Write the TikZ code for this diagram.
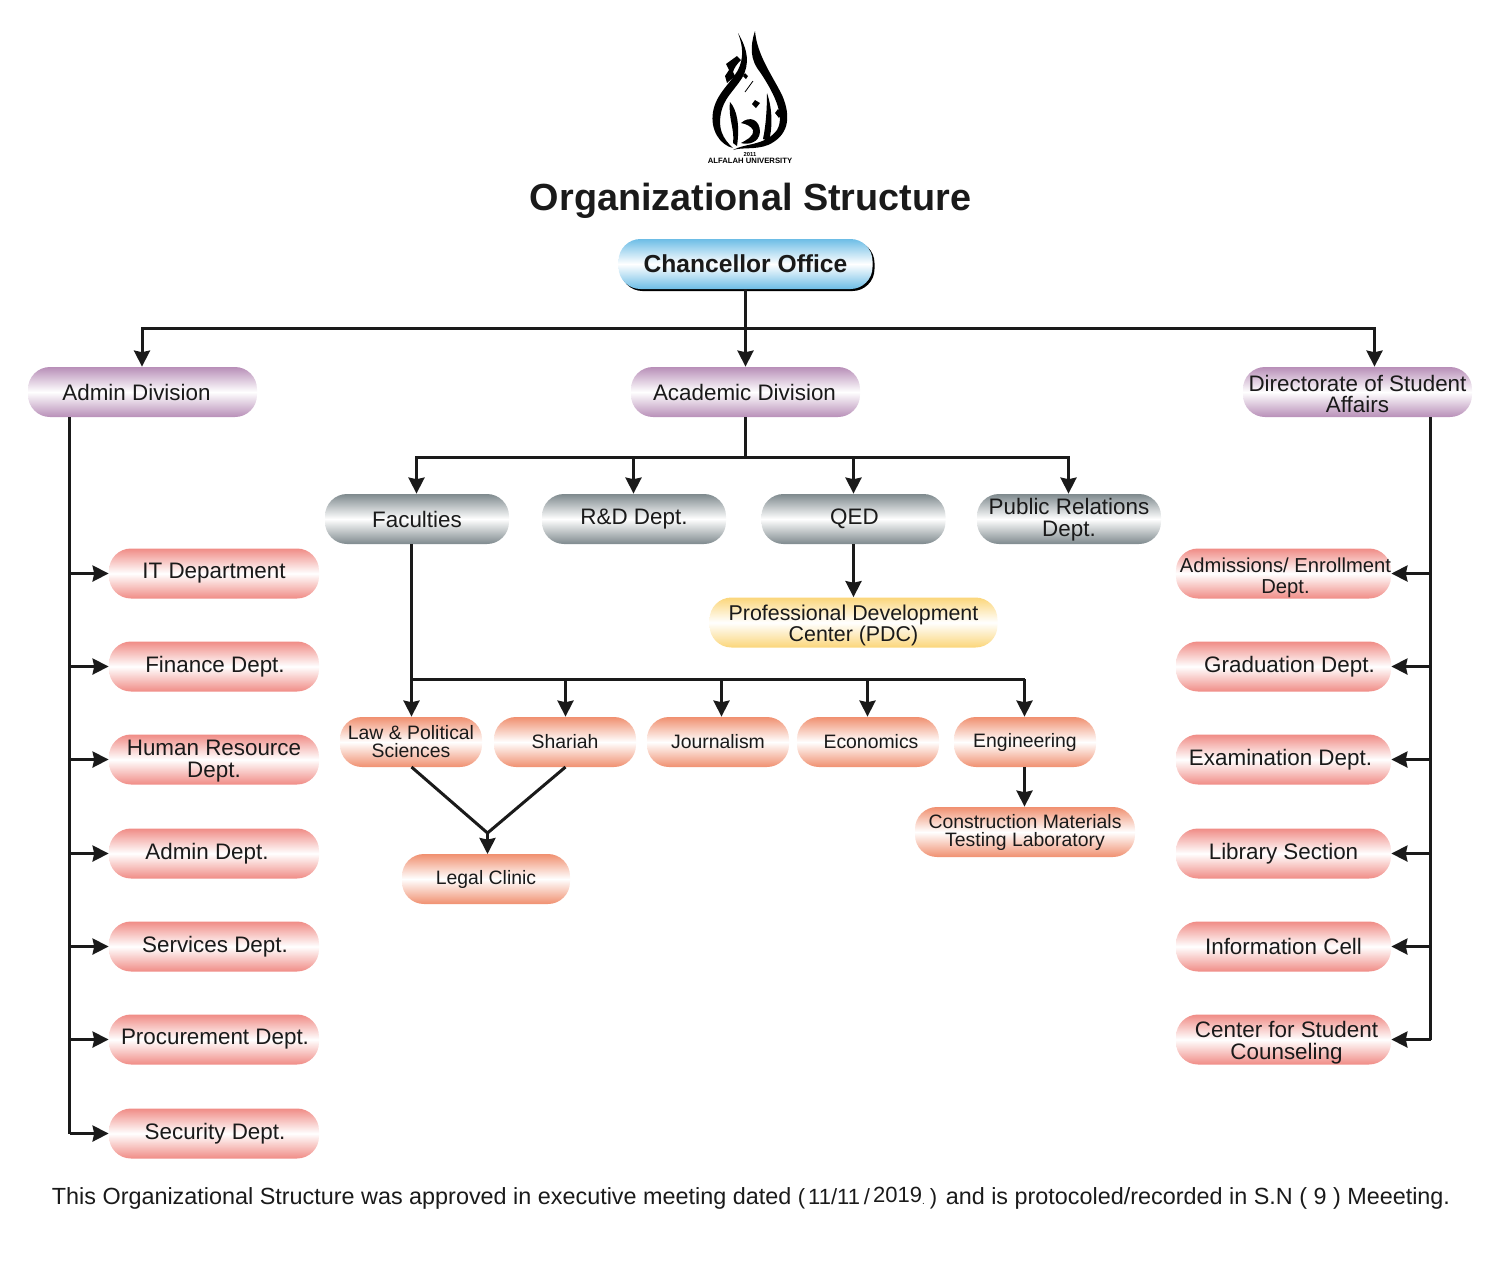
\documentclass[tikz,border=0pt]{standalone}
\usepackage{fontspec}
\setmainfont{Liberation Sans}
\usetikzlibrary{arrows.meta,shadows}
\definecolor{inkline}{HTML}{1A1A1A}
\definecolor{bluetone}{HTML}{6DBDE6}
\definecolor{purpletone}{HTML}{B88FB8}
\definecolor{greytone}{HTML}{7F8A8E}
\definecolor{redtone}{HTML}{F08C86}
\definecolor{orangetone}{HTML}{F09070}
\definecolor{yellowtone}{HTML}{FBD67A}
\newcommand{\droptext}[1]{\rule{0pt}{#1}}
\tikzset{
  unitbox/.style={rectangle,rounded corners=11pt,inner sep=0pt,minimum height=25pt,align=center,text=inkline,
    font=\fontsize{11.2}{10.9}\selectfont,top color=#1,bottom color=#1,middle color=white},
  divbox/.style={unitbox=purpletone,minimum width=114.5pt},
  grpbox/.style={unitbox=greytone,minimum width=92pt},
  leftbox/.style={unitbox=redtone,minimum width=105pt},
  rightbox/.style={unitbox=redtone,minimum width=107.5pt},
  facbox/.style={unitbox=orangetone,minimum width=71pt,font=\fontsize{9.7}{9}\selectfont},
  link/.style={draw=inkline,line width=1.5pt},
  linkto/.style={link,-{Stealth[length=8pt,width=8pt,inset=0.8pt]}},
  logoink/.style={fill=black,draw=none}
}
\begin{document}
\begin{tikzpicture}[x=0.5pt,y=-0.5pt]
\useasboundingbox (0,0) rectangle (1500,1287);
\fill[logoink] (755,31) .. controls (757,55) and (772,75) .. (782,95) .. controls (792,118) and (788,136) .. (768,145) .. controls (755,150) and (742,147) .. (733,150) .. controls (745,143) and (765,146) .. (777,130) .. controls (786,115) and (772,90) .. (760,72) .. controls (750,60) and (750,46) .. (755,31) -- cycle;
\fill[logoink] (738,33) .. controls (748,50) and (750,64) .. (742,78) .. controls (733,92) and (724,98) .. (721,113) .. controls (718,128) and (722,138) .. (733,148) .. controls (720,145) and (710,130) .. (713,112) .. controls (716,94) and (730,84) .. (738,70) .. controls (744,58) and (743,46) .. (738,33) -- cycle;
\fill[logoink] (726,64) -- (737,56) -- (741,60) .. controls (737,64) and (734,68) .. (733,72) -- (735,76) -- (727,83) -- (725,76) -- (729,70) -- cycle;
\fill[logoink] (730,102) .. controls (737,110) and (740,125) .. (737,146) -- (733,143) .. controls (735,130) and (728,118) .. (730,102) -- cycle;
\fill[logoink] (767,93) .. controls (772,108) and (773,125) .. (769,141) -- (763,139) .. controls (766,125) and (767,108) .. (767,93) -- cycle;
\fill[logoink] (741,123) .. controls (750,115) and (760,120) .. (760,132) .. controls (759,143) and (748,145) .. (741,143) .. controls (746,140) and (754,137) .. (753,130) .. controls (751,126) and (746,124) .. (741,123) -- cycle;
\fill[logoink] (755,100) -- (760,103) -- (756,108) -- (752,104) -- cycle;
\fill[logoink] (778,109) -- (782,113) -- (779,118) -- (775,113) -- cycle;
\draw[black,line width=0.4pt] (745,92) -- (753,81);
\fill[logoink] (745,73) -- (748,76) -- (746,79) -- (743,76) -- cycle;
\node[font=\bfseries\fontsize{2.9}{3}\selectfont,text=black,inner sep=0pt] (logoyear) at (750,154) {2011};
\node[font=\bfseries\fontsize{3.85}{4}\selectfont,text=black,inner sep=0pt] (logoname) at (750,160.5) {ALFALAH UNIVERSITY};
\node[font=\bfseries\fontsize{18.9}{20}\selectfont,text=inkline,inner sep=0pt] (title) at (750.5,200.5) {Organizational Structure};
\node[unitbox=bluetone,minimum width=127pt,font=\bfseries\fontsize{12.3}{13}\selectfont,general shadow={shadow xshift=1pt,shadow yshift=-1pt,fill=black}] (chancellor) at (745.5,264) {Chancellor Office};
\node[divbox] (admindiv) at (142.5,392) {\kern-6pt Admin Division};
\node[divbox] (academicdiv) at (745.5,392) {\kern-1pt Academic Division};
\node[divbox] (studentdiv) at (1357.5,392) {\droptext{10.1pt}Directorate of Student\\Affairs};
\node[grpbox] (faculties) at (417,519) {Faculties};
\node[grpbox] (rnd) at (634,519) {R\&D Dept.};
\node[grpbox] (qed) at (853.5,519) {\kern1pt\raisebox{-0.8pt}{QED}};
\node[grpbox] (pubrel) at (1069,519) {\droptext{8.8pt}Public Relations\\Dept.};
\node[unitbox=yellowtone,minimum width=144pt,font=\fontsize{10.7}{10.9}\selectfont] (pdc) at (853.5,622.5) {\droptext{10.8pt}Professional Development\\Center (PDC)};
\node[leftbox] (itdept) at (214,573.5) {IT Department};
\node[leftbox] (finance) at (214,666.5) {\kern1pt Finance Dept.};
\node[leftbox] (hr) at (214,759.5) {\droptext{9.6pt}Human Resource\\Dept.};
\node[leftbox] (admin) at (214,853.5) {\kern-7pt Admin Dept.};
\node[leftbox] (services) at (214,946.5) {\kern1pt Services Dept.};
\node[leftbox] (procure) at (214,1039.5) {\kern1pt Procurement Dept.};
\node[leftbox] (security) at (214,1133.5) {\kern1pt Security Dept.};
\node[rightbox,font=\fontsize{10.1}{10.5}\selectfont] (admissions) at (1283.5,573.5) {\droptext{11.3pt}\kern2pt Admissions/ Enrollment\\\kern2pt Dept.};
\node[rightbox] (graduation) at (1283.5,666.5) {\kern6pt Graduation Dept.};
\node[rightbox] (exam) at (1283.5,759.5) {\kern-3pt Examination Dept.};
\node[rightbox] (library) at (1283.5,853.5) {Library Section};
\node[rightbox] (infocell) at (1283.5,946.5) {Information Cell};
\node[rightbox] (counseling) at (1283.5,1039.5) {\droptext{11.1pt}\kern3pt Center for Student\\\kern3pt Counseling};
\node[facbox] (law) at (411,742) {Law \& Political\\Sciences};
\node[facbox] (shariah) at (565,742) {Shariah};
\node[facbox] (journalism) at (718,742) {Journalism};
\node[facbox] (economics) at (868,742) {\kern3pt Economics};
\node[facbox] (engineering) at (1025,742) {Engineering};
\node[facbox,minimum width=110pt] (cmtl) at (1025,832) {Construction Materials\\Testing Laboratory};
\node[facbox,minimum width=84pt] (legal) at (486,879) {Legal Clinic};
\node[font=\fontsize{11.69}{12}\selectfont,text=inkline,inner sep=0pt] (footer) at (751,1198) {This Organizational Structure was approved in executive meeting dated {\fontsize{11}{12}\selectfont (\kern1.5pt 11/11\kern2pt/\kern1.5pt\raisebox{0.8pt}{2019}{\tiny.}\kern2.5pt)} and is protocoled/recorded in S.N ( 9 ) Meeeting.};
\coordinate (topbus) at (745.5,328);
\coordinate (topleft) at (142,328);
\coordinate (topright) at (1374.5,328);
\coordinate (acaout) at (745.5,417);
\coordinate (acabus) at (745.5,457);
\coordinate (busfac) at (416.5,457);
\coordinate (busrnd) at (633.5,457);
\coordinate (busqed) at (853.5,457);
\coordinate (buspub) at (1068.5,457);
\coordinate (facdrop) at (411.5,544);
\coordinate (facbus) at (411.5,679);
\coordinate (busshariah) at (565.5,679);
\coordinate (busjournal) at (721.5,679);
\coordinate (buseco) at (867.5,679);
\coordinate (buseng) at (1024.5,679);
\coordinate (leftstart) at (69.5,417);
\coordinate (leftend) at (69.5,1133.5);
\coordinate (rightstart) at (1430.5,417);
\coordinate (rightend) at (1430.5,1039.5);
\coordinate (lawout) at (411.5,767);
\coordinate (shariahout) at (565.5,767);
\coordinate (legaljoin) at (487.5,833);
\coordinate (legalin) at (487.5,854);
\draw[linkto] (topbus |- chancellor.south) -- (topbus |- academicdiv.north);
\draw[linkto] (topbus) -- (topleft) -- (topleft |- admindiv.north);
\draw[linkto] (topbus) -- (topright) -- (topright |- studentdiv.north);
\draw[link] (acaout) -- (acabus);
\draw[linkto] (acabus) -- (busfac) -- (busfac |- faculties.north);
\draw[linkto] (acabus) -- (buspub) -- (buspub |- pubrel.north);
\draw[linkto] (busrnd) -- (busrnd |- rnd.north);
\draw[linkto] (busqed) -- (busqed |- qed.north);
\draw[linkto] (qed.south) -- (pdc.north);
\draw[link] (leftstart) -- (leftend);
\draw[linkto] (leftstart |- itdept) -- (itdept.west);
\draw[linkto] (leftstart |- finance) -- (finance.west);
\draw[linkto] (leftstart |- hr) -- (hr.west);
\draw[linkto] (leftstart |- admin) -- (admin.west);
\draw[linkto] (leftstart |- services) -- (services.west);
\draw[linkto] (leftstart |- procure) -- (procure.west);
\draw[linkto] (leftend) -- (security.west);
\draw[link] (rightstart) -- (rightend);
\draw[linkto] (rightstart |- admissions) -- (admissions.east);
\draw[linkto] (rightstart |- graduation) -- (graduation.east);
\draw[linkto] (rightstart |- exam) -- (exam.east);
\draw[linkto] (rightstart |- library) -- (library.east);
\draw[linkto] (rightstart |- infocell) -- (infocell.east);
\draw[linkto] (rightend) -- (counseling.east);
\draw[link] (facdrop) -- (facbus);
\draw[linkto] (facbus) -- (facbus |- law.north);
\draw[link] (facbus) -- (buseng);
\draw[linkto] (busshariah) -- (busshariah |- shariah.north);
\draw[linkto] (busjournal) -- (busjournal |- journalism.north);
\draw[linkto] (buseco) -- (buseco |- economics.north);
\draw[linkto] (buseng) -- (buseng |- engineering.north);
\draw[linkto] (buseng |- engineering.south) -- (buseng |- cmtl.north);
\draw[link] (lawout) -- (legaljoin) -- (shariahout);
\draw[linkto] (legaljoin) -- (legalin);
\end{tikzpicture}
\end{document}
